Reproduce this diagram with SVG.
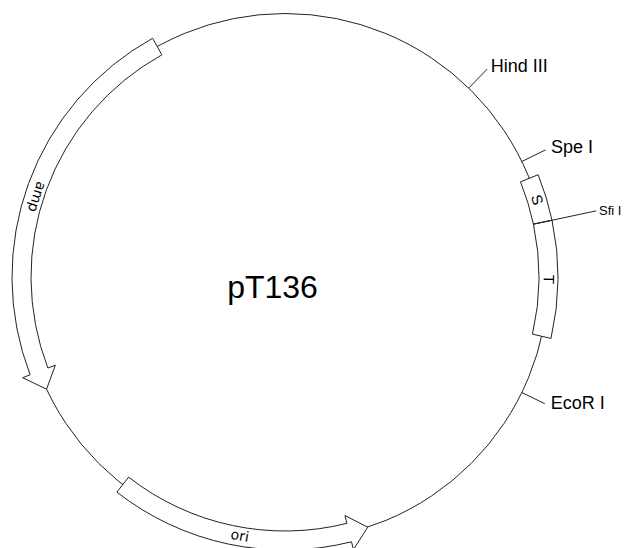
<svg xmlns="http://www.w3.org/2000/svg" width="626" height="548" viewBox="0 0 626 548">
<style>
.ln{fill:none;stroke:#222;stroke-width:1}
.ft{fill:#fff;stroke:#222;stroke-width:1;stroke-linejoin:miter}
.site{font-family:"Liberation Sans",Arial,sans-serif;font-size:18px;fill:#000}
.fl{font-family:"DejaVu Sans",sans-serif;font-size:14px;fill:#000;text-anchor:middle}
.fl2{font-family:"Liberation Sans",Arial,sans-serif;font-size:15px;fill:#000;text-anchor:middle}
</style>
<rect width="626" height="548" fill="#fff"/>
<g id="backbone">
<circle class="ln" cx="285" cy="277" r="263.5"/>
</g>
<g id="connectors">
<line id="tick-hind" class="ln" x1="468.70" y1="88.09" x2="487.18" y2="69.10"/>
<line id="tick-spe" class="ln" x1="521.83" y1="161.49" x2="545.65" y2="149.87"/>
<line id="tick-ecor" class="ln" x1="521.83" y1="392.51" x2="544.75" y2="403.69"/>
</g>
<g id="amp">
<path class="ft" d="M152.65,38.23 A273,273 0 0 0 30.13,374.83 L22.66,377.70 L46.58,389.19 L55.34,365.16 L47.87,368.03 A254,254 0 0 1 161.86,54.85 Z"/>
<text class="fl" x="285" y="542.2" transform="rotate(107.9 285 277)">amp</text>
</g>
<g id="ori">
<path class="ft" d="M116.92,492.13 A273,273 0 0 0 351.51,541.77 L353.46,549.53 L367.74,527.17 L344.93,515.59 L346.88,523.35 A254,254 0 0 1 128.62,477.15 Z"/>
<text class="fl" x="285" y="544.3" transform="rotate(9.9 285 277)">ori</text>
</g>
<g id="S">
<path class="ft" d="M538.12,174.73 A273,273 0 0 1 552.03,220.24 L533.45,224.19 A254,254 0 0 0 520.50,181.85 Z"/>
<text class="fl2" x="285" y="18.4" transform="rotate(73 285 277)">S</text>
</g>
<g id="T">
<path class="ft" d="M552.03,220.24 A273,273 0 0 1 551.00,338.41 L532.49,334.14 A254,254 0 0 0 533.45,224.19 Z"/>
<text class="fl2" x="285" y="18.4" transform="rotate(90.5 285 277)">T</text>
</g>
<g id="sfi">
<line class="ln" x1="533.45" y1="224.19" x2="596.05" y2="210.88"/>
<text class="site" x="599" y="215" style="font-size:13px">Sfi I</text>
</g>
<g id="hind">
<text class="site" x="490.7" y="72.3">Hind III</text>
</g>
<g id="spe">
<text class="site" x="551" y="152.7">Spe I</text>
</g>
<g id="ecor">
<text class="site" x="550.7" y="409">EcoR I</text>
</g>
<g id="title">
<text x="272.5" y="298" style="font-family:'Liberation Sans',Arial,sans-serif;font-size:32px;text-anchor:middle">pT136</text>
</g>
</svg>
